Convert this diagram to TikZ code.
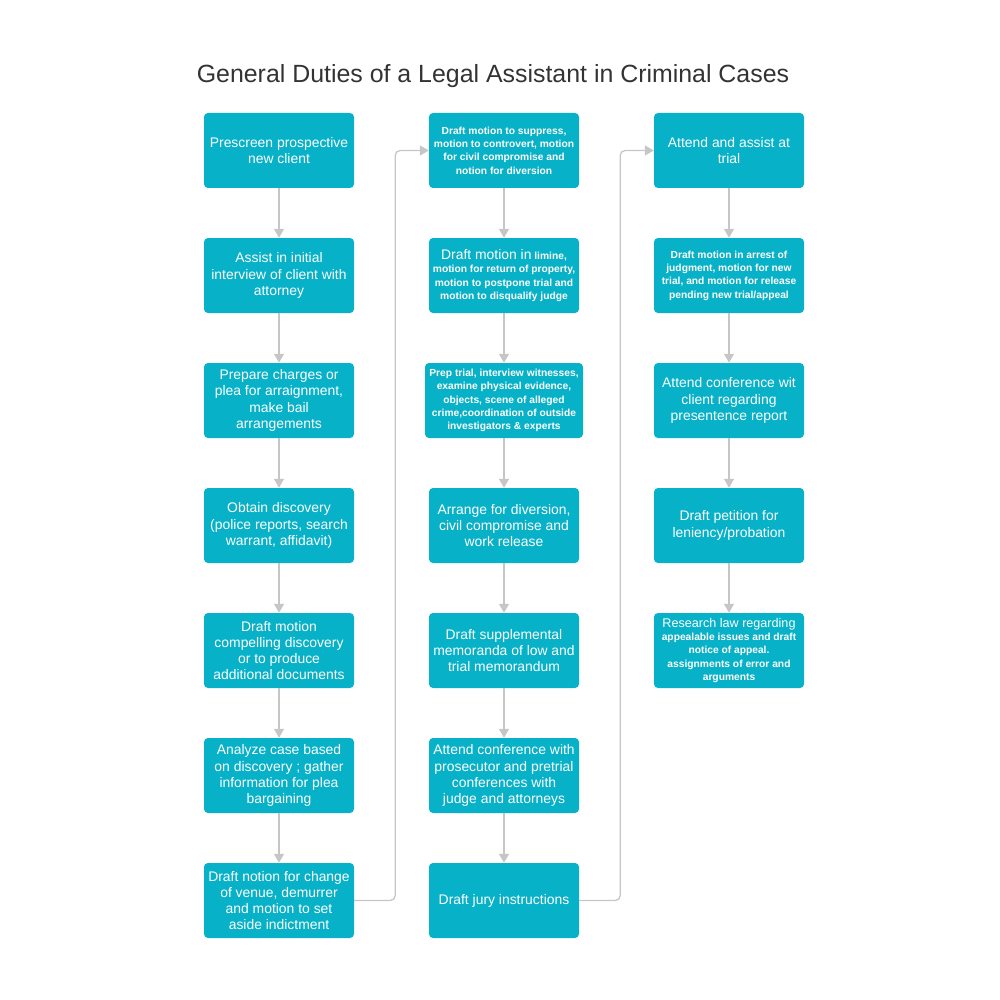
\documentclass[tikz,border=0pt]{standalone}
\usepackage{fontspec}
\setmainfont{Liberation Sans}
\usepackage{xcolor}
\usetikzlibrary{arrows.meta}
\definecolor{dutyteal}{HTML}{07B1C7}
\definecolor{linkgray}{HTML}{C6C6C6}
\definecolor{titlegray}{HTML}{333333}
\newcommand{\bigtxt}{\fontsize{13.9}{16.2}\selectfont\mdseries}
\newcommand{\smalltxt}{\fontsize{10.25}{13.3}\selectfont\bfseries}

\begin{document}
\begin{tikzpicture}[x=1pt, y=-1pt]
\tikzstyle{duty}=[draw=none, fill=dutyteal, text=white, rounded corners=4, minimum height=75, minimum width=150, align=center, inner sep=2, font=\bigtxt]
\tikzstyle{dutysmall}=[duty, font=\smalltxt]
\tikzstyle{link}=[draw=linkgray, line width=1.3, -{Triangle[length=9,width=10]}]
\useasboundingbox (0,0) rectangle (1000,1000);

\node (title) at (493,76) [text=titlegray, font=\fontsize{24.9}{28}\selectfont] {General Duties of a Legal Assistant in Criminal Cases};

%% first column
\node (c1r1) at (279,150.5) [duty] {Prescreen prospective\\new client};
\node (c1r2) at (279,275.5) [duty] {Assist in initial\\interview of client with\\attorney};
\node (c1r3) at (279,400.5) [duty] {Prepare charges or\\plea for arraignment,\\make bail\\arrangements};
\node (c1r4) at (279,525.5) [duty] {Obtain discovery\\(police reports, search\\warrant, affidavit)};
\node (c1r5) at (279,650.5) [duty] {Draft motion\\compelling discovery\\or to produce\\additional documents};
\node (c1r6) at (279,775.5) [duty] {Analyze case based\\on discovery ; gather\\information for plea\\bargaining};
\node (c1r7) at (279,900.5) [duty] {Draft notion for change\\of venue, demurrer\\and motion to set\\aside indictment};

%% second column
\node (c2r1) at (504,150.5) [dutysmall] {Draft motion to suppress,\\motion to controvert, motion\\for civil compromise and\\notion for diversion};
\node (c2r2) at (504,275.5) [dutysmall] {{\bigtxt Draft motion in} limine,\\motion for return of property,\\motion to postpone trial and\\motion to disqualify judge};
\node (c2r3) at (504,400.5) [dutysmall, minimum width=158] {Prep trial, interview witnesses,\\examine physical evidence,\\objects, scene of alleged\\crime,coordination of outside\\investigators \& experts};
\node (c2r4) at (504,525.5) [duty] {Arrange for diversion,\\civil compromise and\\work release};
\node (c2r5) at (504,650.5) [duty] {Draft supplemental\\memoranda of low and\\trial memorandum};
\node (c2r6) at (504,775.5) [duty] {Attend conference with\\prosecutor and pretrial\\conferences with\\judge and attorneys};
\node (c2r7) at (504,900.5) [duty] {Draft jury instructions};

%% third column
\node (c3r1) at (729,150.5) [duty] {Attend and assist at\\trial};
\node (c3r2) at (729,275.5) [dutysmall] {Draft motion in arrest of\\judgment, motion for new\\trial, and motion for release\\pending new trial/appeal};
\node (c3r3) at (729,400.5) [duty] {Attend conference wit\\client regarding\\presentence report};
\node (c3r4) at (729,525.5) [duty] {Draft petition for\\leniency/probation};
\node (c3r5) at (729,650.5) [dutysmall] {{\fontsize{12.6}{14.5}\selectfont\mdseries Research law regarding}\\appealable issues and draft\\notice of appeal.\\assignments of error and\\arguments};

\foreach \c/\n in {1/7, 2/7, 3/5} {
  \foreach \r [evaluate=\r as \s using int(\r+1)] in {1,...,\n} {
    \ifnum\r<\n
      \draw [link] (c\c r\r.south) -- (c\c r\s.north);
    \fi
  }
}

\draw [link, rounded corners=5] (c1r7.east) -- ++(41,0) |- (c2r1.west);
\draw [link, rounded corners=5] (c2r7.east) -- ++(41,0) |- (c3r1.west);
\end{tikzpicture}
\end{document}
